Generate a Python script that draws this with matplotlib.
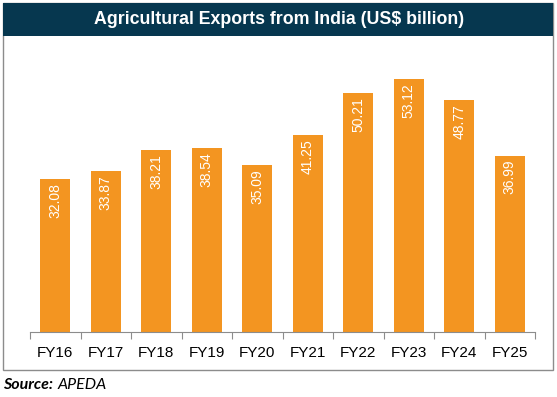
import matplotlib.pyplot as plt
from matplotlib.patches import Rectangle

years = ["FY16", "FY17", "FY18", "FY19", "FY20", "FY21", "FY22", "FY23", "FY24", "FY25"]
exports = [32.08, 33.87, 38.21, 38.54, 35.09, 41.25, 50.21, 53.12, 48.77, 36.99]

W, H = 557, 397
fig = plt.figure(figsize=(W / 100, H / 100), dpi=100)

# outer box and header band
fig.patches.append(Rectangle((3 / W, 1 - 370 / H), 550 / W, 367 / H, transform=fig.transFigure,
                             facecolor="white", edgecolor="#8c8c8c", linewidth=1, zorder=-2))
fig.patches.append(Rectangle((3 / W, 1 - 36 / H), 550 / W, 33 / H, transform=fig.transFigure,
                             facecolor="#06374f", edgecolor="none", zorder=-1))
fig.text(279 / W, 1 - 19.5 / H, "Agricultural Exports from India (US$ billion)", color="white",
         fontsize=12.8, fontweight="bold", family="Liberation Sans", ha="center", va="center")

ax = fig.add_axes([30 / W, 1 - 332 / H, 505 / W, 286 / H])
ax.set_zorder(2)
x = range(len(years))
bars = ax.bar(x, exports, width=0.6, color="#f39521", zorder=2)
for b, v in zip(bars, exports):
    ax.text(b.get_x() + b.get_width() / 2, v - 0.9, f"{v:.2f}", rotation=90, color="white",
            fontsize=10, family="Liberation Sans", ha="center", va="top")

ax.set_xlim(-0.5, len(years) - 0.5)
ax.set_ylim(0, 60)
ax.set_yticks([])
for s in ["top", "right", "left"]:
    ax.spines[s].set_visible(False)
ax.spines["bottom"].set_color("#8c8c8c")
ax.set_xticks([i - 0.5 for i in range(len(years) + 1)])
ax.set_xticklabels([])
ax.set_xticks(list(x), minor=True)
ax.set_xticklabels(years, minor=True, fontsize=11, family="Liberation Sans")
ax.tick_params(axis="x", which="major", length=5, color="#8c8c8c")
ax.tick_params(axis="x", which="minor", length=0, pad=10)
ax.patch.set_alpha(0)

fig.text(3 / W, 1 - 385 / H, "Source:", fontsize=11.5, fontweight="bold", style="italic",
         family="Lato", va="center")
fig.text(58 / W, 1 - 385 / H, "APEDA", fontsize=11.5, style="italic", family="Lato", va="center")

fig.savefig("out.png", dpi=100)
